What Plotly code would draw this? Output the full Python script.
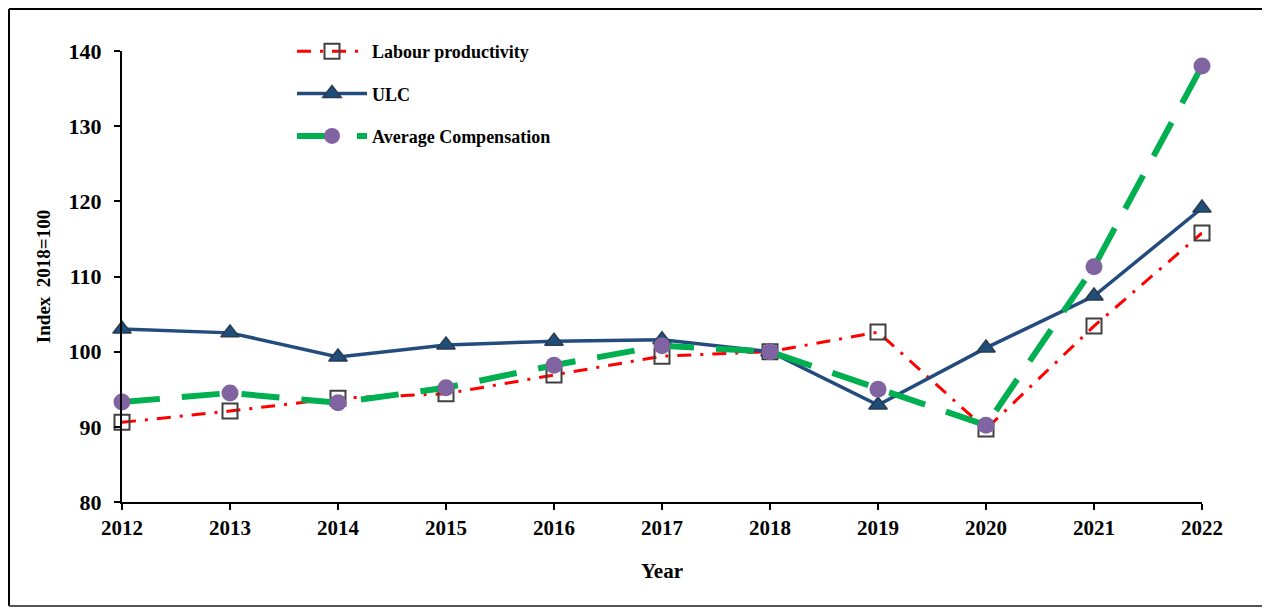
import plotly.graph_objects as go

years = [2012, 2013, 2014, 2015, 2016, 2017, 2018, 2019, 2020, 2021, 2022]
labour_productivity = [90.6, 92.1, 93.8, 94.4, 96.9, 99.4, 100.0, 102.6, 89.7, 103.4, 115.8]
ulc = [103.0, 102.5, 99.3, 100.9, 101.4, 101.6, 100.0, 92.9, 100.5, 107.4, 119.1]
avg_comp = [93.3, 94.5, 93.2, 95.2, 98.2, 100.8, 100.0, 95.0, 90.2, 111.3, 138.0]

FONT = "Liberation Serif"

fig = go.Figure()
fig.add_trace(go.Scatter(
    x=years, y=labour_productivity, name="Labour productivity", mode="lines+markers",
    legendgroup="a",
    line=dict(color="#FF0000", width=3, dash="14px,9px,3px,9px"),
    marker=dict(symbol="square-open", size=15, color="#404040", line=dict(color="#404040", width=2)),
    cliponaxis=False,
))
fig.add_trace(go.Scatter(
    x=years, y=ulc, name="ULC", mode="lines+markers",
    legendgroup="b",
    line=dict(color="#234B7E", width=3.5),
    marker=dict(symbol="triangle-up", size=16, color="#1F4E79", line=dict(color="#2A3A4F", width=1.5)),
    cliponaxis=False,
))
fig.add_trace(go.Scatter(
    x=years, y=avg_comp, name="Average Compensation", mode="lines+markers",
    legendgroup="c",
    line=dict(color="#00B050", width=6, dash="38px,22px"),
    marker=dict(symbol="circle", size=17, color="#8064A2"),
    cliponaxis=False,
))

# frame around the chart (left, top, bottom edges)
xl, xr = (9 - 122) / 1080, (1280 - 122) / 1080
yt, yb = (502 - 9) / 451, (502 - 606) / 451
frame = [
    dict(type="line", xref="paper", yref="paper", x0=xl, x1=xl, y0=yb, y1=yt, line=dict(color="black", width=2)),
    dict(type="line", xref="paper", yref="paper", x0=xl, x1=xr, y0=yt, y1=yt, line=dict(color="black", width=2)),
    dict(type="line", xref="paper", yref="paper", x0=xl, x1=xr, y0=yb, y1=yb, line=dict(color="#555555", width=2)),
]

fig.update_layout(
    width=1270, height=609,
    margin=dict(l=114, r=76, t=43, b=115),
    paper_bgcolor="white", plot_bgcolor="white",
    font=dict(family=FONT, color="black"),
    showlegend=True,
    legend=dict(
        x=(292 - 122) / 1080, y=1.04, xanchor="left", yanchor="top",
        font=dict(family=FONT, size=18, color="black", weight="bold"),
        itemwidth=70, tracegroupgap=16, bgcolor="rgba(0,0,0,0)",
    ),
    xaxis=dict(
        range=[2012, 2022], tickvals=years, ticktext=[str(y) for y in years],
        showline=True, linecolor="black", linewidth=2, ticks="outside", ticklen=6,
        tickwidth=2, tickcolor="black", showgrid=False, zeroline=False,
        tickfont=dict(family=FONT, size=21, color="black", weight="bold"),
        title=dict(text="Year", font=dict(family=FONT, size=21, color="black", weight="bold"), standoff=24),
    ),
    yaxis=dict(
        range=[80, 140], dtick=10, tick0=80,
        showline=True, linecolor="black", linewidth=2, ticks="outside", ticklen=6,
        tickwidth=2, tickcolor="black", showgrid=False, zeroline=False,
        ticklabelstandoff=8,
        tickfont=dict(family=FONT, size=22, color="black", weight="bold"),
        title=dict(text="Index  2018=100", font=dict(family=FONT, size=19, color="black", weight="bold"), standoff=13),
    ),
    shapes=frame,
)

fig.write_html("out.html")
